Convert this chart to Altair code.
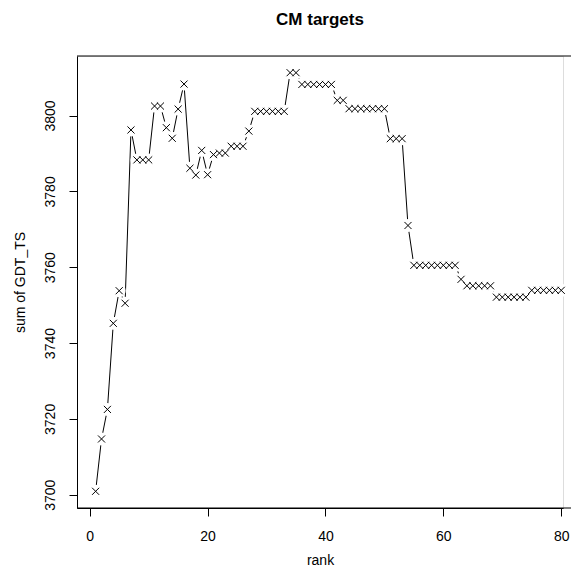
import altair as alt
import pandas as pd

ranks = list(range(1, 81))
gdt_sum = [
    3700.9, 3714.7, 3722.5, 3745.2, 3753.8, 3750.5, 3796.2, 3788.3, 3788.3, 3788.3,
    3802.5, 3802.5, 3796.8, 3794.0, 3801.7, 3808.3, 3786.1, 3784.3, 3790.8, 3784.4,
    3789.7, 3790.1, 3790.1, 3791.9, 3791.9, 3791.9, 3795.9, 3801.1, 3801.1, 3801.1,
    3801.1, 3801.1, 3801.1, 3811.3, 3811.3, 3808.2, 3808.2, 3808.2, 3808.2, 3808.2,
    3808.2, 3804.0, 3804.0, 3801.8, 3801.8, 3801.8, 3801.8, 3801.8, 3801.8, 3801.8,
    3793.9, 3793.9, 3793.9, 3771.0, 3760.5, 3760.5, 3760.5, 3760.5, 3760.5, 3760.5,
    3760.5, 3760.5, 3756.8, 3755.1, 3755.1, 3755.1, 3755.1, 3755.1, 3752.1, 3752.1,
    3752.1, 3752.1, 3752.1, 3752.1, 3753.9, 3753.9, 3753.9, 3753.9, 3753.9, 3753.9,
]
x_ticks = [0, 20, 40, 60, 80]
y_ticks = [3700, 3720, 3740, 3760, 3780, 3800]

df = pd.DataFrame({"rank": ranks, "gdt": gdt_sum})

FONT = "Liberation Sans"
W, H = 486, 452

xs = alt.X("rank:Q", scale=alt.Scale(domain=[-2.16, 80.3], nice=False, zero=False),
           axis=alt.Axis(values=x_ticks, title="rank", grid=False, tickSize=8,
                         labelPadding=13, titlePadding=10, labelFont=FONT, titleFont=FONT,
                         labelFontSize=14, titleFontSize=14, titleFontWeight="normal",
                         labelColor="black", titleColor="black", tickColor="black",
                         domainColor="black", labelFlush=False, format="d"))
ys = alt.Y("gdt:Q", scale=alt.Scale(domain=[3696.5, 3815.7], nice=False, zero=False),
           axis=alt.Axis(values=y_ticks, title="sum of GDT_TS", grid=False, tickSize=8,
                         labelAngle=270, labelAlign="center", labelBaseline="bottom",
                         labelPadding=12, titlePadding=16, labelFont=FONT, titleFont=FONT,
                         labelFontSize=14, titleFontSize=14, titleFontWeight="normal",
                         labelColor="black", titleColor="black", tickColor="black",
                         domainColor="black", labelFlush=False, format="d"))

base = alt.Chart(df)
line = base.mark_line(color="black", strokeWidth=1).encode(x=xs, y=ys)
gaps = base.mark_point(shape="circle", filled=True, color="white", opacity=1,
                       size=170, strokeWidth=0).encode(x="rank:Q", y="gdt:Q")
crosses = base.mark_point(shape="M-1,-1L1,1M-1,1L1,-1", filled=False, color="black",
                          size=50, strokeWidth=1, opacity=1).encode(x="rank:Q", y="gdt:Q")
frame = pd.DataFrame({"a": [0]})
top = alt.Chart(frame).mark_rule(color="black", strokeWidth=1).encode(
    x=alt.value(0), x2=alt.value(W + 8), y=alt.value(0))
bottom = alt.Chart(frame).mark_rule(color="black", strokeWidth=1).encode(
    x=alt.value(0), x2=alt.value(W + 8), y=alt.value(H))

chart = alt.layer(line, gaps, crosses, top, bottom).properties(
    width=W, height=H,
    title=alt.TitleParams("CM targets", font=FONT, fontSize=17, fontWeight="bold",
                          color="black", offset=27, anchor="middle"),
    autosize=alt.AutoSizeParams(type="none"),
    padding={"left": 69, "top": 48, "right": 8, "bottom": 61},
).configure_view(stroke=None).configure(background="white")

chart.save("out.html", embed_options={"renderer": "svg", "actions": False})
